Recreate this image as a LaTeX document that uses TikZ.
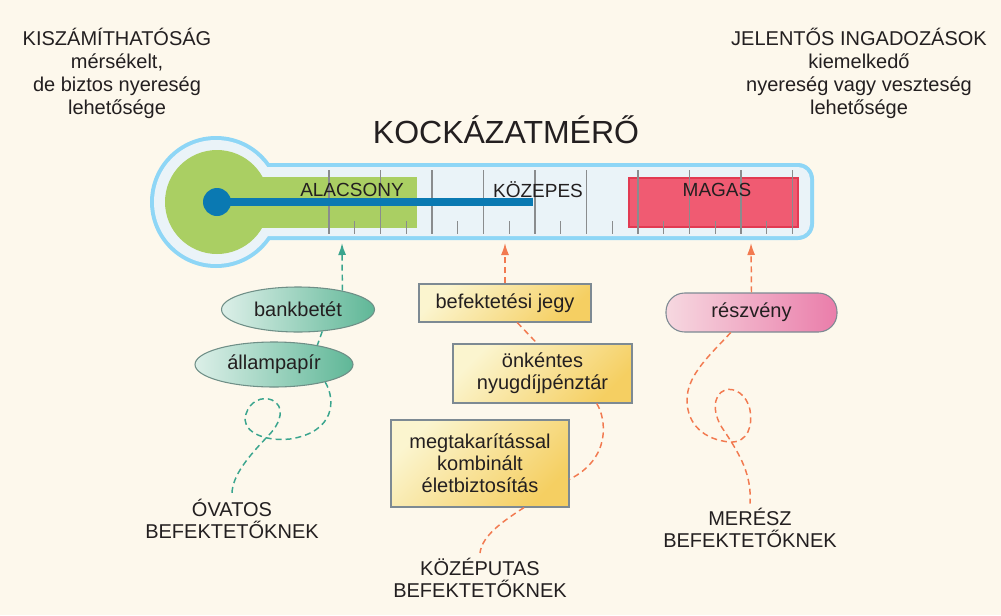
\documentclass[tikz,border=0pt]{standalone}
\usepackage{fontspec}
\setmainfont{Liberation Sans}
\usetikzlibrary{arrows.meta,shapes.geometric}

\definecolor{cream}{HTML}{FDF8EC}
\definecolor{ink}{HTML}{231F20}
\definecolor{tubeedge}{HTML}{8ED6F6}
\definecolor{tubein}{HTML}{EAF3F8}
\definecolor{lowgreen}{HTML}{AACF63}
\definecolor{barblue}{HTML}{0A79B2}
\definecolor{tickgray}{HTML}{8A8C8E}
\definecolor{highfill}{HTML}{F05B72}
\definecolor{highedge}{HTML}{E23A52}
\definecolor{safeteal}{HTML}{3AA58E}
\definecolor{riskorange}{HTML}{F27A50}
\definecolor{egglight}{HTML}{DCEFE8}
\definecolor{eggdark}{HTML}{5FB797}
\definecolor{eggedge}{HTML}{6F8F87}
\definecolor{notelight}{HTML}{FBF5CF}
\definecolor{notedark}{HTML}{F5CF62}
\definecolor{pinklight}{HTML}{F6D8E0}
\definecolor{pinkdark}{HTML}{EA7DAA}
\definecolor{boxedge}{HTML}{7D8A93}

\begin{document}
\begin{tikzpicture}[x=0.75pt,y=-0.75pt,
  every node/.style={text=ink,font=\fontsize{15}{16.5}\selectfont,align=center},
  tick/.style={tickgray,line width=0.9pt},
  scalelabel/.style={font=\fontsize{14.25}{16}\selectfont},
  headtext/.style={font=\fontsize{15}{17.25}\selectfont},
  eggbox/.style={ellipse,draw=eggedge,line width=0.8pt,left color=egglight,right color=eggdark,
    minimum height=33.75pt,inner sep=2pt},
  notebox/.style={rectangle,draw=boxedge,line width=0.8pt,top color=notelight,bottom color=notedark,
    shading angle=45,inner sep=2pt},
  pillbox/.style={rectangle,draw=boxedge,line width=0.8pt,left color=pinklight,right color=pinkdark,
    rounded corners=14pt,minimum width=128.25pt,minimum height=29.25pt},
  safeline/.style={safeteal,line width=1.1pt,dash pattern=on 4.5pt off 3pt},
  riskline/.style={riskorange,line width=1.1pt,dash pattern=on 4.5pt off 3pt},
  up/.style={-{Latex[length=9pt,width=6pt]}}]

  % background
  \fill[cream] (0,0) rectangle (1001,615);
  \useasboundingbox (0,0) rectangle (1001,615);

  % texts on top
  \node (calm) at (117,37) {KISZÁMÍTHATÓSÁG};
  \node[headtext] (calmtxt) at (117,86) {mérsékelt,\\de biztos nyereség\\lehetősége};
  \node (swing) at (859,37) {JELENTŐS INGADOZÁSOK};
  \node[headtext] (swingtxt) at (859,86) {kiemelkedő\\nyereség vagy veszteség\\lehetősége};
  \node[font=\fontsize{24}{28}\selectfont] (title) at (506,130) {KOCKÁZATMÉRŐ};

  % thermometer
  \fill[tubeedge] (216,202) circle (66);
  \fill[tubeedge,rounded corners=12pt] (216,163) rectangle (814,240);
  \fill[tubein] (216,202) circle (62);
  \fill[tubein,rounded corners=9pt] (216,167) rectangle (810,236);
  \fill[lowgreen] (217,202) circle (52);
  \fill[lowgreen] (217,177) rectangle (417,228);
  \draw[highedge,fill=highfill,line width=0.8pt] (629,178) rectangle (798,227);
  \foreach \i in {0,...,9}
    \draw[tick] ({329+51.5*\i},170) -- ({329+51.5*\i},234);
  \foreach \i in {0,...,8}
    \draw[tick] ({354.75+51.5*\i},221) -- ({354.75+51.5*\i},234);
  \fill[barblue] (217,198) rectangle (533,206);
  \fill[barblue] (217,202) circle (14);
  \node[scalelabel] (low) at (352,190) {ALACSONY};
  \node[scalelabel] (mid) at (538,190) {KÖZEPES};
  \node[scalelabel] (high) at (717,190) {MAGAS};

  \coordinate (lowmark) at (342,243);
  \coordinate (midmark) at (505,243);
  \coordinate (highmark) at (751,243);

  % products
  \node[eggbox,minimum width=114.75pt] (bank) at (298,309.5) {bankbetét};
  \node[eggbox,minimum width=118.5pt] (allam) at (274,364.5) {állampapír};
  \node[notebox,minimum width=129pt,minimum height=28.5pt] (jegy) at (505,303) {befektetési jegy};
  \node[notebox,minimum width=134.25pt,minimum height=44.25pt] (onk) at (542.5,373.5) {önkéntes\\nyugdíjpénztár};
  \node[notebox,minimum width=133.5pt,minimum height=65.25pt] (meg) at (480,463.5) {megtakarítással\\kombinált\\életbiztosítás};
  \node[pillbox] (resz) at (751.5,312.5) {részvény};

  % investors
  \node (ovatos) at (232,518.5) {ÓVATOS\\BEFEKTETŐKNEK};
  \node (kozep) at (480,577.5) {KÖZÉPUTAS\\BEFEKTETŐKNEK};
  \node (meresz) at (750,528) {MERÉSZ\\BEFEKTETŐKNEK};

  % careful path
  \draw[safeline,up] (bank.23) -- (lowmark);
  \draw[safeline] (bank.-42) -- (allam.24);
  \draw[safeline] (allam.-19) .. controls (336,400) and (335,432) .. (290,439)
    .. controls (262,442) and (240,430) .. (246,414)
    .. controls (250,401) and (262,396) .. (272,400)
    .. controls (285,406) and (282,422) .. (268,436)
    .. controls (250,455) and (232,475) .. (ovatos.north);

  % middle path
  \draw[riskline,up] (jegy.north) -- (midmark);
  \draw[riskline] (jegy.-58) -- (onk.100);
  \draw[riskline] (onk.-29) .. controls (606,418) and (612,458) .. (meg.-10);
  \draw[riskline] (meg.-45) .. controls (505,520) and (482,535) .. (kozep.north);

  % bold path
  \draw[riskline,up] (resz.north) -- (highmark);
  \draw[riskline] (resz.-136) .. controls (710,355) and (687,375) .. (687,400)
    .. controls (687,425) and (705,440) .. (730,442)
    .. controls (748,443) and (753,425) .. (750,410)
    .. controls (747,395) and (735,387) .. (725,390)
    .. controls (712,395) and (712,415) .. (725,432)
    .. controls (740,455) and (752,475) .. (meresz.north);
\end{tikzpicture}
\end{document}
